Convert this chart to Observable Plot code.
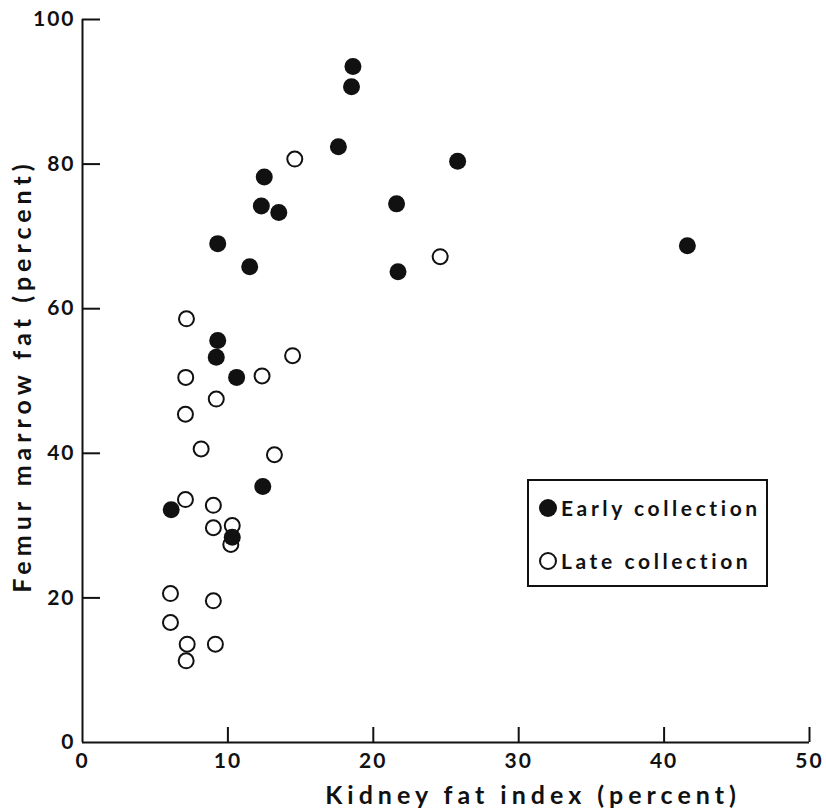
<!DOCTYPE html>
<html>
<head>
<meta charset="utf-8">
<script src="https://cdn.jsdelivr.net/npm/d3@7"></script>
<script src="https://cdn.jsdelivr.net/npm/@observablehq/plot@0.6"></script>
<style>
  body { margin: 0; background: #fff; }
  #wrap { position: relative; width: 826px; height: 808px; font-family: Lato, "DejaVu Sans", sans-serif; }
  #legend { position: absolute; left: 527px; top: 479px; width: 237px; height: 104px; border: 2px solid #111; background: #fff; }
  .row { position: absolute; left: 10px; display: flex; align-items: center; font-size: 21px; font-weight: bold; letter-spacing: 3.6px; color: #111; line-height: 1; }
  .dot { width: 18px; height: 18px; border-radius: 50%; box-sizing: border-box; margin-right: 4px; }
</style>
</head>
<body>
<div id="wrap"></div>
<script>
// Data
const earlyX = [18.6, 18.5, 17.6, 25.8, 12.5, 12.3, 13.5, 21.6, 41.6, 9.3, 11.5, 21.7, 9.3, 9.2, 10.6, 12.4, 6.1, 10.3];
const earlyY = [93.5, 90.7, 82.4, 80.4, 78.2, 74.2, 73.3, 74.5, 68.7, 69.0, 65.8, 65.1, 55.6, 53.3, 50.5, 35.4, 32.2, 28.4];
const lateX = [14.6, 24.6, 7.15, 14.45, 7.1, 12.35, 9.2, 7.08, 8.16, 13.2, 7.08, 9.0, 9.0, 10.3, 10.2, 6.05, 9.0, 6.05, 7.2, 9.14, 7.13];
const lateY = [80.7, 67.2, 58.6, 53.5, 50.5, 50.7, 47.5, 45.4, 40.6, 39.8, 33.6, 32.8, 29.7, 30.0, 27.4, 20.6, 19.6, 16.6, 13.6, 13.6, 11.3];
const xTicks = [0, 10, 20, 30, 40, 50];
const yTicks = [0, 20, 40, 60, 80, 100];
const seriesNames = ["Early collection", "Late collection"];
const xTitle = "Kidney fat index (percent)";
const yTitle = "Femur marrow fat (percent)";

const early = earlyX.map((x, i) => ({x, y: earlyY[i]}));
const late = lateX.map((x, i) => ({x, y: lateY[i]}));
const ink = "#111";

const chart = Plot.plot({
  width: 826,
  height: 808,
  marginLeft: 82,
  marginRight: 17,
  marginTop: 19,
  marginBottom: 66,
  style: {fontFamily: "Lato, 'DejaVu Sans', sans-serif", color: ink, background: "#fff"},
  x: {domain: [0, 50], axis: null},
  y: {domain: [0, 100], axis: null},
  marks: [
    Plot.axisX({ticks: xTicks, tickSize: 0, tickPadding: 11, fontSize: 21, fontWeight: "bold", label: null}),
    Plot.axisY({ticks: yTicks, tickSize: 0, tickPadding: 7, fontSize: 21, fontWeight: "bold", label: null}),
    Plot.ruleX([0], {y1: 0, y2: 100, stroke: ink, strokeWidth: 2}),
    Plot.ruleY([0], {x1: 0, x2: 50, stroke: ink, strokeWidth: 2}),
    Plot.ruleX(xTicks.filter(d => d > 0), {x: d => d, y1: 0, y2: 0, insetTop: -15, stroke: ink, strokeWidth: 2}),
    Plot.ruleY(yTicks.filter(d => d > 0), {y: d => d, x1: 0, x2: 0, insetRight: -18, stroke: ink, strokeWidth: 2}),
    Plot.dot(late, {x: "x", y: "y", r: 7.5, stroke: ink, strokeWidth: 2, fill: "#fff"}),
    Plot.dot(early, {x: "x", y: "y", r: 8.5, fill: ink, stroke: "none"}),
    Plot.text([xTitle], {frameAnchor: "bottom", textAnchor: "middle", lineAnchor: "middle", dx: 87, dy: 53, fontSize: 25, fontWeight: "bold", fill: ink}),
    Plot.text([yTitle], {frameAnchor: "left", textAnchor: "middle", lineAnchor: "middle", rotate: -90, dx: -60, dy: -5, fontSize: 25, fontWeight: "bold", fill: ink})
  ]
});

const svg = d3.select(chart);
svg.selectAll("text").each(function () {
  const t = d3.select(this);
  const s = t.text();
  if (s === xTitle || s === yTitle) t.style("letter-spacing", "5px");
  else t.style("letter-spacing", "2px");
});

const wrap = document.getElementById("wrap");
wrap.appendChild(chart);

// Legend
const legend = document.createElement("div");
legend.id = "legend";
const rows = [
  {name: seriesNames[0], top: 16, fill: ink, border: "none"},
  {name: seriesNames[1], top: 69, fill: "#fff", border: "2px solid " + ink}
];
rows.forEach(r => {
  const row = document.createElement("div");
  row.className = "row";
  row.style.top = r.top + "px";
  const dot = document.createElement("span");
  dot.className = "dot";
  dot.style.background = r.fill;
  dot.style.border = r.border;
  const label = document.createElement("span");
  label.textContent = r.name;
  row.appendChild(dot);
  row.appendChild(label);
  legend.appendChild(row);
});
wrap.appendChild(legend);
</script>
</body>
</html>
